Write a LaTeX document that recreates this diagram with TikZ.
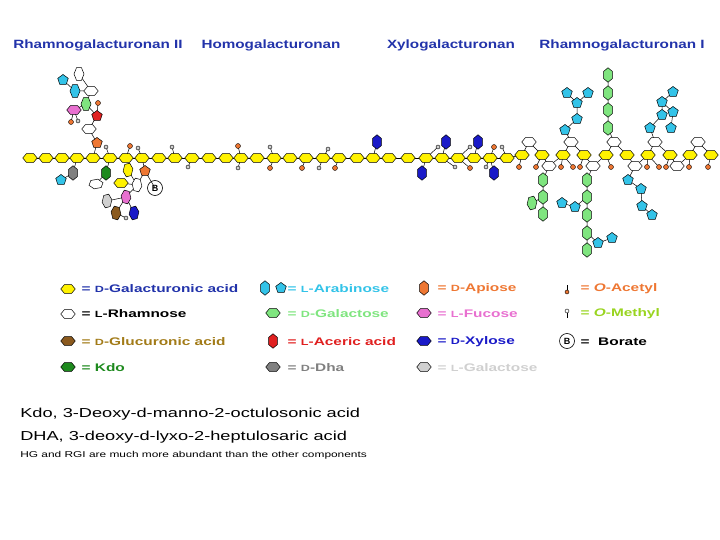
\documentclass[tikz,border=0pt]{standalone}
\usepackage{fontspec}
\setmainfont{Liberation Sans}
\usetikzlibrary{shapes.geometric,backgrounds}
\definecolor{gala}{HTML}{FFF200}
\definecolor{ara}{HTML}{33C3E8}
\definecolor{galc}{HTML}{7FE57F}
\definecolor{api}{HTML}{EE7733}
\definecolor{fuc}{HTML}{E870D0}
\definecolor{xyl}{HTML}{1A1AC8}
\definecolor{ace}{HTML}{E02020}
\definecolor{kdo}{HTML}{1E8A1E}
\definecolor{dha}{HTML}{808080}
\definecolor{lgal}{HTML}{D0D0D0}
\definecolor{glc}{HTML}{8B5A1E}
\definecolor{ttl}{HTML}{2233AA}
\tikzset{
 hx/.style={draw=black,line width=0.5pt,regular polygon,regular polygon sides=6,minimum size=10pt,inner sep=0pt,xscale=1.45,transform shape,fill=#1},
 vx/.style={draw=black,line width=0.5pt,regular polygon,regular polygon sides=6,minimum size=10pt,inner sep=0pt,yscale=1.45,rotate=90,transform shape,fill=#1},
 px/.style={draw=black,line width=0.5pt,regular polygon,regular polygon sides=5,minimum size=11pt,inner sep=0pt,fill=#1},
 dot/.style={draw=black,line width=0.4pt,circle,minimum size=5pt,inner sep=0pt,fill=#1},
 lk/.style={line width=0.5pt},
 ttlf/.style={font=\bfseries\fontsize{12}{14}\selectfont,text=ttl,xscale=1.27,transform shape},
 lg/.style={font=\bfseries\fontsize{11}{13}\selectfont,anchor=west,text=#1,xscale=1.4,transform shape,inner sep=1pt},
 nt/.style={anchor=west,inner sep=0pt,xscale=1.4,transform shape},
}
\newcommand{\sD}{{\fontsize{9}{10}\selectfont D}}
\newcommand{\sL}{{\fontsize{9}{10}\selectfont L}}
\begin{document}
\begin{tikzpicture}[x=1pt,y=-1pt]
\useasboundingbox (0,0) rectangle (720,540);
% titles
\node[ttlf] (t1) at (98,45) {Rhamnogalacturonan II};
\node[ttlf] (t2) at (271,45) {Homogalacturonan};
\node[ttlf] (t3) at (451,45) {Xylogalacturonan};
\node[ttlf] (t4) at (622,45) {Rhamnogalacturonan I};
% backbone
\foreach \x [count=\i] in {30,46,62,77,93,110,126,142,159,175,192,209,226,241,257,274,290,306,323,339,357,373,389,408,426,442,458,474,490,507}
  \node[hx=gala] (b\i) at (\x,158) {};
% RGI
\foreach \x [count=\i] in {522,542,563,584,606,627,648,670,690,711}
  \node[hx=gala] (r\i) at (\x,155) {};
\foreach \x/\y [count=\i] in {529/142,549/166,571/142,593/166,614/142,635/166,655/142,677/166,698/142}
  \node[hx=white] (w\i) at (\x,\y) {};
% RGII side chains
\node[px=api] (a1) at (97,143) {};
\node[hx=white] (a2) at (89,129) {};
\node[px=ace] (a3) at (97,116) {};
\node[dot=api] (a3d) at (98,103) {};
\node[hx=fuc] (a4) at (74,110) {};
\node[dot=api] (a4d) at (71,122) {};
\node[dot=lgal,minimum size=4pt] (a4e) at (78,121) {};
\node[vx=galc,rotate=30] (a5) at (86,104) {};
\node[hx=white] (a6) at (91,91) {};
\node[vx=ara,rotate=30] (a7) at (75,91) {};
\node[px=ara] (a8) at (63,80) {};
\node[vx=white,rotate=-30] (a9) at (79,74) {};
\node[vx=dha] (c1) at (73,173) {};
\node[px=ara] (c2) at (61,180) {};
\node[vx=kdo] (k1) at (106,173) {};
\node[hx=white,rotate=-45] (k2) at (96,184) {};
\node[px=api] (d1) at (145,171) {};
\node[vx=white,rotate=-40] (d2) at (137,185) {};
\node[vx=gala,rotate=40] (d3) at (128,170) {};
\node[hx=gala] (d4) at (121,183) {};
\node[draw,circle,line width=0.6pt,inner sep=0pt,minimum size=15pt,font=\bfseries\small] (bor) at (155,188) {B};
\node[vx=fuc,rotate=-40] (d5) at (126,197) {};
\node[vx=lgal,rotate=40] (d6) at (107,201) {};
\node[vx=glc,rotate=-40] (d7) at (116,213) {};
\node[vx=xyl,rotate=40] (d8) at (134,213) {};
\node[dot=lgal,minimum size=4pt] (d9) at (126,218) {};
% HG / XGA substituents
\foreach \n/\x/\y/\c/\s in {m1/106/147/lgal/4,m2/130/146/api/5,m3/138/148/lgal/4,m4/172/147/lgal/4,m5/188/167/lgal/4,m6/238/146/api/5,m7/238/168/lgal/4,m8/270/147/lgal/4,m9/270/168/api/5,m10/302/168/api/5,m11/319/168/lgal/4,m12/328/149/lgal/4,m13/335/168/api/5,m14/438/147/lgal/4,m15/455/167/lgal/4,m16/470/147/lgal/4,m17/470/168/api/5,m18/494/147/api/5,m19/486/167/lgal/4,m20/502/147/lgal/4}
  \node[dot=\c,minimum size=\s pt] (\n) at (\x,\y) {};
\node[vx=xyl] (x1) at (377,142) {};
\node[vx=xyl] (x2) at (422,173) {};
\node[vx=xyl] (x3) at (446,142) {};
\node[vx=xyl] (x4) at (478,142) {};
\node[vx=xyl] (x5) at (494,173) {};
% RGI acetyls
\foreach \n/\x/\y in {e1/519,e2/536,e3/561,e4/573,e5/580,e6/611,e7/647,e8/659,e9/666,e10/689,e11/708}
  \node[dot=api,minimum size=5pt] (\n) at (\x,167) {};
% RGI branches
\node[vx=galc] (g1) at (543,180) {};
\node[vx=galc] (g2) at (543,197) {};
\node[vx=galc] (g3) at (543,214) {};
\node[vx=galc,rotate=40] (g4) at (532,203) {};
\node[px=ara] (p1) at (565,130) {};
\node[px=ara] (p2) at (577,119) {};
\node[px=ara] (p3) at (577,103) {};
\node[px=ara] (p4) at (567,93) {};
\node[px=ara] (p5) at (588,93) {};
\node[vx=galc] (h1) at (608,128) {};
\node[vx=galc] (h2) at (608,110) {};
\node[vx=galc] (h3) at (608,93) {};
\node[vx=galc] (h4) at (608,75) {};
\node[vx=galc] (q1) at (587,180) {};
\node[vx=galc] (q2) at (587,197) {};
\node[vx=galc] (q3) at (587,215) {};
\node[vx=galc] (q4) at (587,233) {};
\node[vx=galc] (q5) at (587,250) {};
\node[px=ara] (q6) at (575,207) {};
\node[px=ara] (q7) at (562,203) {};
\node[px=ara] (q8) at (598,243) {};
\node[px=ara] (q9) at (612,238) {};
\node[px=ara] (s1) at (628,180) {};
\node[px=ara] (s2) at (641,189) {};
\node[px=ara] (s3) at (642,206) {};
\node[px=ara] (s4) at (652,215) {};
\node[px=ara] (u1) at (650,128) {};
\node[px=ara] (u2) at (662,115) {};
\node[px=ara] (u3) at (662,102) {};
\node[px=ara] (u4) at (673,92) {};
\node[px=ara] (u5) at (673,112) {};
\node[px=ara] (u6) at (671,128) {};
\begin{scope}[on background layer]
\foreach \i [evaluate=\i as \j using int(\i+1)] in {1,...,29}
  \draw[lk] (b\i.center) -- (b\j.center);
\draw[lk] (b30.center) -- (r1.center) -- (w1.center) -- (r2.center) -- (w2.center) -- (r3.center) -- (w3.center) -- (r4.center) -- (w4.center) -- (r5.center) -- (w5.center) -- (r6.center) -- (w6.center) -- (r7.center) -- (w7.center) -- (r8.center) -- (w8.center) -- (r9.center) -- (w9.center) -- (r10.center);
\draw[lk] (b5.center) -- (a1.center) -- (a2.center) -- (a3.center) -- (a5.center) -- (a6.center) -- (a9.center);
\draw[lk] (a3.center) -- (a3d.center); \draw[lk] (a5.center) -- (a4.center) -- (a4d.center); \draw[lk] (a4.center) -- (a4e.center);
\draw[lk] (a6.center) -- (a7.center) -- (a8.center);
\draw[lk] (b4.center) -- (c1.center) -- (c2.center);
\draw[lk] (b6.center) -- (k1.center) -- (k2.center);
\draw[lk] (b8.center) -- (d1.center) -- (d2.center) -- (d3.center); \draw[lk] (d2.center) -- (d4.center);
\draw[lk] (d1.center) -- (bor.center); \draw[lk] (d2.center) -- (d5.center) -- (d6.center); \draw[lk] (d5.center) -- (d7.center); \draw[lk] (d5.center) -- (d8.center); \draw[lk] (d7.center) -- (d9.center);
\foreach \m/\b in {m1/b6,m2/b7,m3/b8,m4/b10,m5/b11,m6/b14,m7/b14,m8/b16,m9/b16,m10/b18,m11/b19,m12/b19,m13/b20,m14/b25,m15/b26,m16/b27,m17/b27,m18/b29,m19/b29,m20/b30}
  \draw[lk] (\m.center) -- (\b.center);
\foreach \m/\b in {x1/b22,x2/b25,x3/b26,x4/b28,x5/b29} \draw[lk] (\m.center) -- (\b.center);
\foreach \m/\b in {e1/r1,e2/r2,e3/r3,e4/r3,e5/r4,e6/r5,e7/r7,e8/r7,e9/r8,e10/r9,e11/r10} \draw[lk] (\m.center) -- (\b.center);
\draw[lk] (w2.center) -- (g1.center) -- (g2.center) -- (g3.center); \draw[lk] (g2.center) -- (g4.center);
\draw[lk] (w3.center) -- (p1.center) -- (p2.center) -- (p3.center) -- (p4.center); \draw[lk] (p3.center) -- (p5.center);
\draw[lk] (w5.center) -- (h1.center) -- (h2.center) -- (h3.center) -- (h4.center);
\draw[lk] (w4.center) -- (q1.center) -- (q2.center) -- (q3.center) -- (q4.center) -- (q5.center);
\draw[lk] (q2.center) -- (q6.center) -- (q7.center); \draw[lk] (q4.center) -- (q8.center) -- (q9.center);
\draw[lk] (w6.center) -- (s1.center) -- (s2.center) -- (s3.center) -- (s4.center);
\draw[lk] (w7.center) -- (u1.center) -- (u2.center) -- (u3.center) -- (u4.center); \draw[lk] (u3.center) -- (u5.center) -- (u6.center);
\end{scope}
% legend
\node[hx=gala] (L1) at (68,289) {};
\node[lg=ttl] (T1) at (80,289) {= \sD-Galacturonic acid};
\node[hx=white] (L2) at (68,314) {};
\node[lg=black] (T2) at (80,314) {= \sL-Rhamnose};
\node[hx=glc] (L3) at (68,341) {};
\node[lg=glc!80!yellow] (T3) at (80,342) {= \sD-Glucuronic acid};
\node[hx=kdo] (L4) at (68,367) {};
\node[lg=kdo] (T4) at (80,368) {= Kdo};
\node[vx=ara] (L5a) at (265,288) {};
\node[px=ara] (L5b) at (281,288) {};
\node[lg=ara] (T5) at (286,289) {= \sL-Arabinose};
\node[hx=galc] (L6) at (273,313) {};
\node[lg=galc] (T6) at (286,314) {= \sD-Galactose};
\node[vx=ace] (L7) at (273,341) {};
\node[lg=ace] (T7) at (286,342) {= \sL-Aceric acid};
\node[hx=dha] (L8) at (273,367) {};
\node[lg=dha] (T8) at (286,368) {= \sD-Dha};
\node[vx=api] (L9) at (424,288) {};
\node[lg=api] (T9) at (436,289) {= \sD-Apiose};
\node[hx=fuc] (L10) at (424,313) {};
\node[lg=fuc] (T10) at (436,314) {= \sL-Fucose};
\node[hx=xyl] (L11) at (424,341) {};
\node[lg=xyl] (T11) at (436,342) {= \sD-Xylose};
\node[hx=lgal] (L12) at (424,367) {};
\node[lg=lgal] (T12) at (436,368) {= \sL-Galactose};
\node[dot=api,minimum size=4pt] (L13) at (567,292) {};
\coordinate (L13t) at (567,285);
\draw[lk] (L13) -- (L13t);
\node[lg=api] (T13) at (579,289) {= \textit{O}-Acetyl};
\node[dot=white,minimum size=4pt] (L14) at (567,311) {};
\coordinate (L14t) at (567,318);
\draw[lk] (L14) -- (L14t);
\node[lg=yellow!60!green] (T14) at (579,314) {= \textit{O}-Methyl};
\node[draw,circle,line width=0.6pt,inner sep=0pt,minimum size=15pt,font=\bfseries\small] (L15) at (567,341) {B};
\node[lg=black] (T15) at (579,342) {= \ Borate};
% notes
\node[nt,font=\fontsize{13}{15}\selectfont] (n1) at (20,414) {Kdo, 3-Deoxy-d-manno-2-octulosonic acid};
\node[nt,font=\fontsize{13}{15}\selectfont] (n2) at (20,437) {DHA, 3-deoxy-d-lyxo-2-heptulosaric acid};
\node[nt,font=\fontsize{8.5}{10}\selectfont] (n3) at (20,455) {HG and RGI are much more abundant than the other components};
\end{tikzpicture}
\end{document}
